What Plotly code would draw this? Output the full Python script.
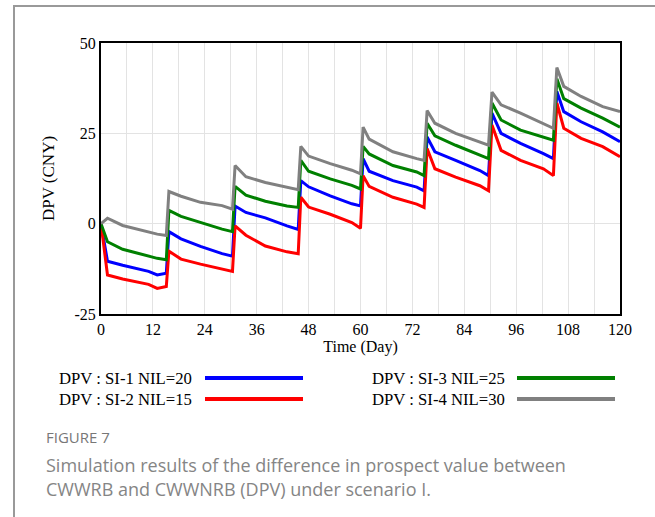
import plotly.graph_objects as go

# ---- data ----
days = [0, 1.5, 5, 11, 13, 15.1,
        15.7, 18.5, 23, 28, 30.4,
        31.0, 33.5, 38, 43, 45.6,
        46.2, 48, 53, 58, 60.0,
        60.6, 62, 67.5, 73, 74.7,
        75.4, 77.2, 82, 87.6, 89.6,
        90.4, 92.5, 97, 102.3, 104.6,
        105.4, 107, 111, 116, 120]

si1_nil20 = [0, -10.4, -11.5, -13.2, -14.2, -13.7,
             -2.2, -4.2, -6.3, -8.3, -9.0,
             4.9, 3.1, 1.6, -0.6, -1.6,
             11.9, 10.2, 7.7, 5.5, 4.9,
             18.0, 14.5, 11.9, 10.1, 9.1,
             24.0, 19.9, 17.5, 14.7, 13.3,
             30.6, 25.0, 22.2, 19.4, 18.0,
             36.6, 31.0, 28.2, 25.4, 22.7]

si2_nil15 = [0, -14.2, -15.3, -16.8, -17.9, -17.4,
             -7.6, -9.8, -11.2, -12.6, -13.2,
             -0.6, -3.2, -6.2, -7.8, -8.3,
             7.3, 4.6, 2.6, 0.3, -1.3,
             13.3, 10.3, 7.3, 5.4, 4.5,
             20.8, 15.2, 12.9, 10.5, 9.1,
             27.3, 20.3, 17.5, 15.2, 13.3,
             33.4, 26.4, 23.6, 21.3, 18.5]

si3_nil25 = [0, -5.0, -7.1, -9.0, -9.6, -10.0,
             3.7, 2.0, 0.3, -1.5, -2.2,
             10.3, 7.9, 6.2, 4.9, 4.5,
             17.5, 14.5, 12.4, 10.6, 9.6,
             21.4, 19.3, 16.1, 14.3, 13.3,
             27.8, 24.3, 21.7, 18.9, 18.0,
             33.4, 28.7, 25.9, 24.0, 23.1,
             40.1, 34.6, 32.0, 29.2, 26.7]

si4_nil30 = [0, 1.5, -0.5, -2.4, -2.9, -3.3,
             8.9, 7.6, 5.9, 5.0, 4.0,
             16.1, 13.0, 11.4, 10.1, 9.4,
             21.4, 18.7, 16.6, 14.8, 13.8,
             26.7, 23.4, 19.9, 18.0, 17.5,
             31.3, 27.8, 25.0, 22.7, 21.7,
             36.4, 32.9, 30.6, 27.8, 26.4,
             43.2, 38.0, 35.2, 32.4, 31.0]

series_names = ["DPV : SI-1 NIL=20", "DPV : SI-2 NIL=15",
                "DPV : SI-3 NIL=25", "DPV : SI-4 NIL=30"]
series_values = [si1_nil20, si2_nil15, si3_nil25, si4_nil30]
series_colors = ["#0000ff", "#ff0000", "#008000", "#808080"]

x_ticks = [0, 12, 24, 36, 48, 60, 72, 84, 96, 108, 120]
y_ticks = [-25, 0, 25, 50]
y_tick_labels = ["-25", "0", "25", "50"]

# ---- figure ----
W, H = 655, 517
ML, MR, MT, MB = 101, 35, 43, 203
PW, PH = W - ML - MR, H - MT - MB

def px(x):
    return (x - ML) / PW

def py(y):
    return (H - MB - y) / PH

fig = go.Figure()
for name, vals, col in zip(series_names, series_values, series_colors):
    fig.add_trace(go.Scatter(x=days, y=vals, mode="lines", name=name,
                             line=dict(color=col, width=3), showlegend=False))

serif = "Liberation Serif, Times New Roman, serif"
sans = "Open Sans, Noto Sans, sans-serif"

fig.update_layout(
    width=W, height=H,
    margin=dict(l=ML, r=MR, t=MT, b=MB),
    paper_bgcolor="white", plot_bgcolor="white",
    font=dict(family=serif, size=16, color="black"),
    xaxis=dict(range=[0, 120], tickvals=x_ticks,
               showgrid=True, gridcolor="#e3e3e3", gridwidth=1,
               showline=True, linecolor="black", linewidth=2, mirror=True,
               ticks="", zeroline=False,
               title=dict(text="Time (Day)", font=dict(size=16), standoff=4),
               tickfont=dict(size=16),
               minor=dict(dtick=6, tick0=0, showgrid=True, gridcolor="#e3e3e3", gridwidth=1)),
    yaxis=dict(range=[-25, 50], tickvals=y_ticks, ticktext=y_tick_labels,
               showgrid=True, gridcolor="#e3e3e3", gridwidth=1,
               showline=True, linecolor="black", linewidth=2, mirror=True,
               ticks="", zeroline=False,
               title=dict(text="DPV (CNY)", font=dict(size=17), standoff=16),
               tickfont=dict(size=16)),
)

annotations = []
shapes = []
# custom legend (text left, line sample right)
leg_layout = [  # (series index, text x px, line x0 px, line x1 px, row y px)
    (0, 57, 205, 303, 378),
    (1, 57, 205, 303, 399),
    (2, 370, 517, 615, 378),
    (3, 370, 517, 615, 399),
]
for idx, tx, lx0, lx1, ry in leg_layout:
    annotations.append(dict(text=series_names[idx], xref="paper", yref="paper",
                            x=px(tx), y=py(ry), xanchor="left", yanchor="middle",
                            showarrow=False, font=dict(family=serif, size=16.7, color="black")))
    shapes.append(dict(type="line", xref="paper", yref="paper",
                       x0=px(lx0), x1=px(lx1), y0=py(ry), y1=py(ry),
                       line=dict(color=series_colors[idx], width=4)))

# caption
annotations.append(dict(text="FIGURE 7", xref="paper", yref="paper",
                        x=px(44), y=py(437), xanchor="left", yanchor="middle",
                        showarrow=False, font=dict(family=sans, size=15, color="#777777")))
annotations.append(dict(text="Simulation results of the difference in prospect value between",
                        xref="paper", yref="paper", x=px(44), y=py(465),
                        xanchor="left", yanchor="middle", showarrow=False,
                        font=dict(family=sans, size=18, color="#858585")))
annotations.append(dict(text="CWWRB and CWWNRB (DPV) under scenario I.",
                        xref="paper", yref="paper", x=px(44), y=py(489),
                        xanchor="left", yanchor="middle", showarrow=False,
                        font=dict(family=sans, size=18, color="#858585")))

# gray page frame (top and left edges)
shapes.append(dict(type="line", xref="paper", yref="paper",
                   x0=px(13), x1=px(655), y0=py(6), y1=py(6),
                   line=dict(color="#999999", width=2)))
shapes.append(dict(type="line", xref="paper", yref="paper",
                   x0=px(14), x1=px(14), y0=py(5), y1=py(520),
                   line=dict(color="#999999", width=2)))

fig.update_layout(annotations=annotations, shapes=shapes)

fig.write_html("out.html", config={"displayModeBar": False},
               post_script="document.body.style.margin='0';document.body.style.overflow='hidden';")
